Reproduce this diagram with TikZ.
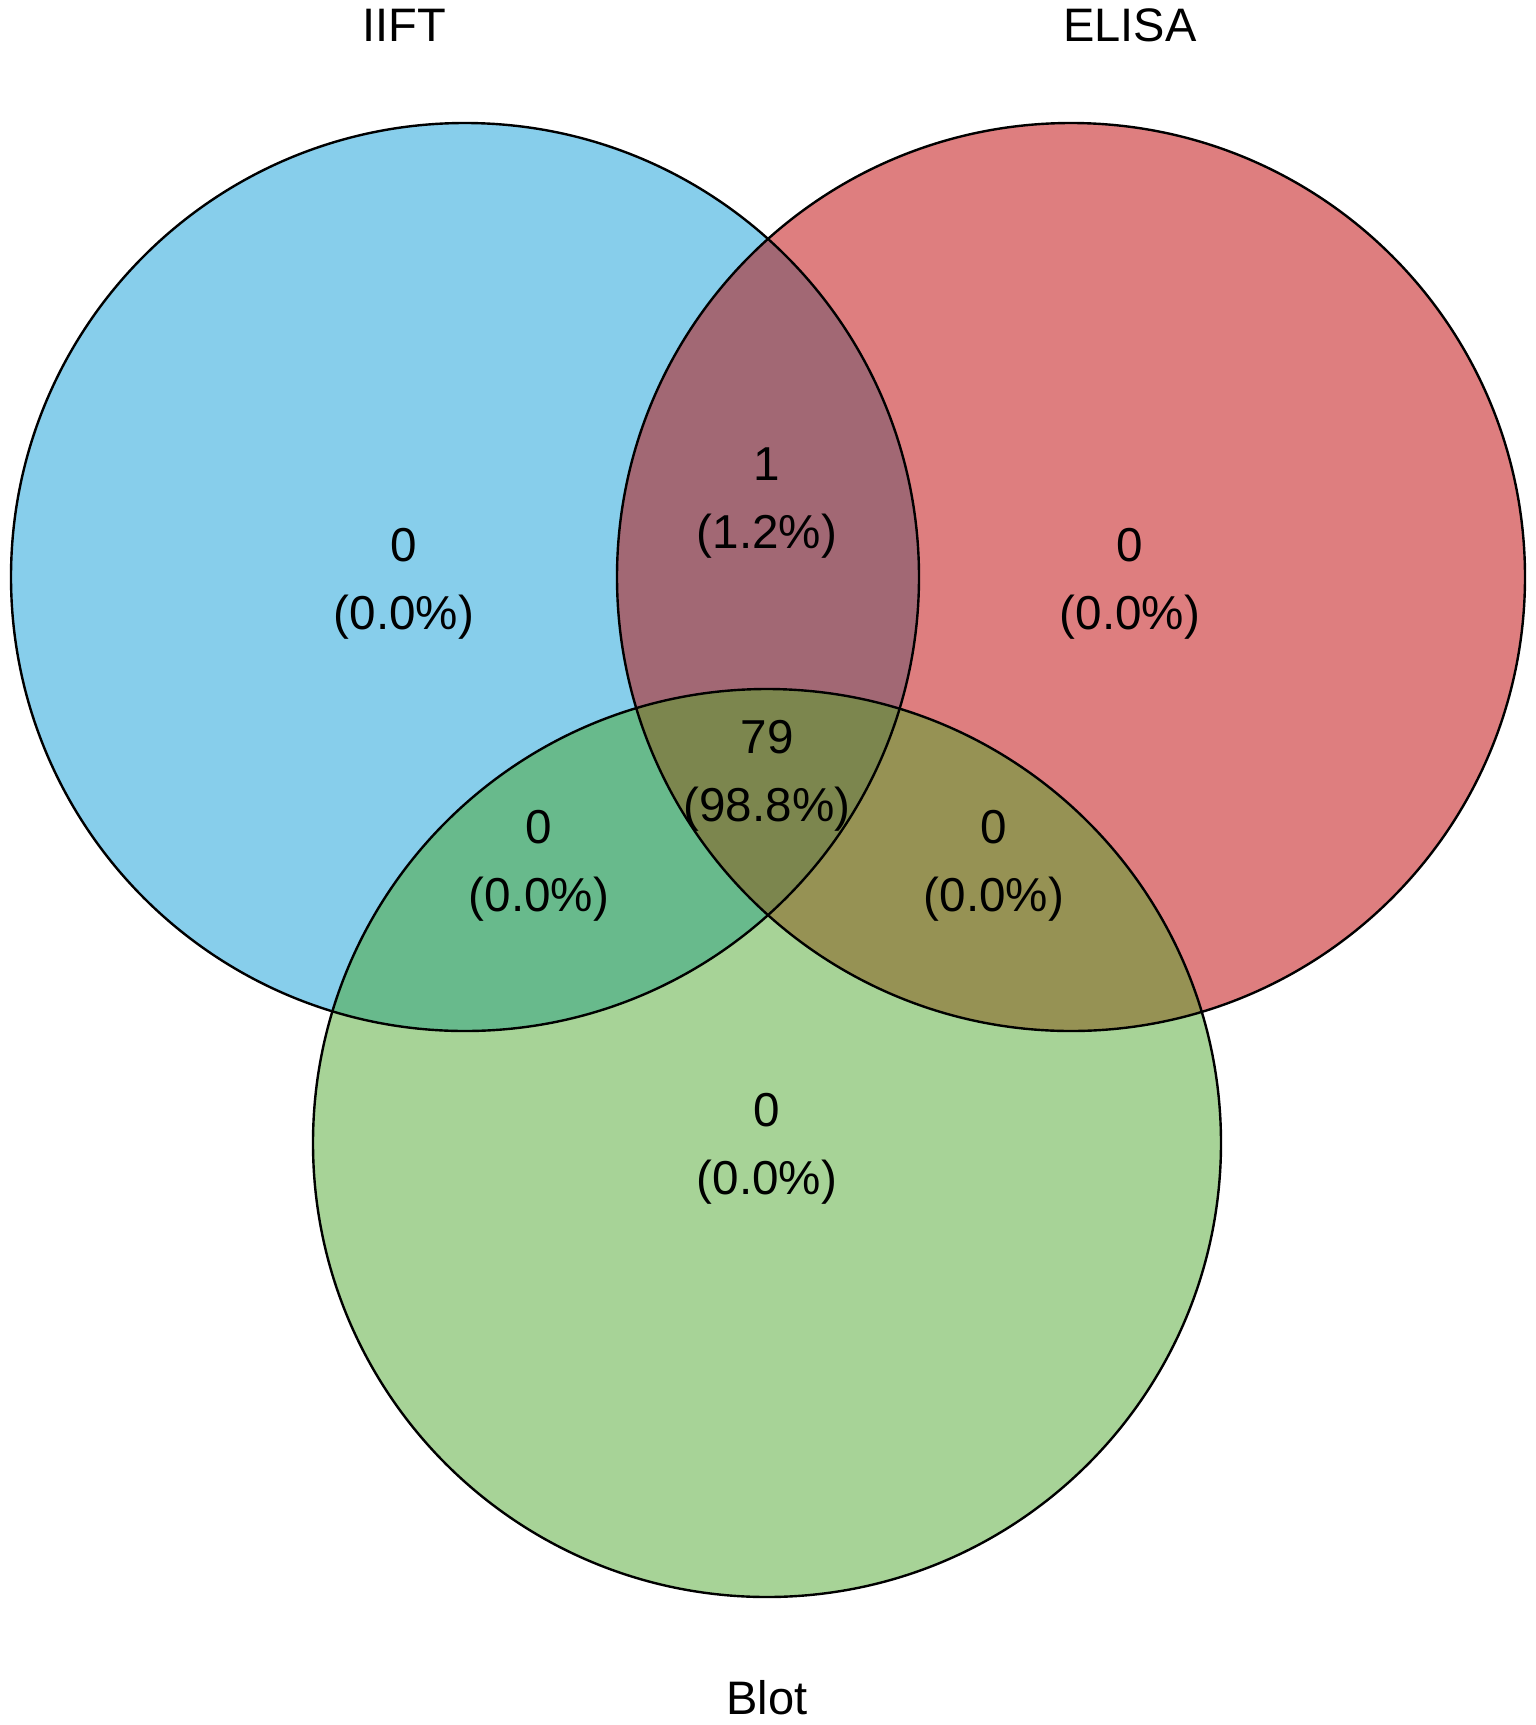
\documentclass[tikz,border=0pt]{standalone}
\usepackage{fontspec}
\setmainfont{Liberation Sans}
\usepackage{tikz}
\usetikzlibrary{calc}
\definecolor{cblue}{RGB}{135,206,235}
\definecolor{cred}{RGB}{222,126,127}
\definecolor{cgreen}{RGB}{167,211,151}
\definecolor{cbr}{RGB}{162,104,116}
\definecolor{cbg}{RGB}{104,186,140}
\definecolor{crg}{RGB}{150,146,84}
\definecolor{cbrg}{RGB}{124,134,78}
\tikzstyle{setlbl}=[font=\fontsize{23.5}{28}\selectfont, inner sep=0pt]
\tikzstyle{cnt}=[font=\fontsize{23.8}{34}\selectfont, align=center, inner sep=0pt]
\tikzstyle{ring}=[draw=black, line width=1.2pt]

\begin{document}
\begin{tikzpicture}[x=0.5pt,y=-0.5pt]
\useasboundingbox (0,0) rectangle (1536,1725);
\coordinate (ciift) at (465,577);
\coordinate (celisa) at (1071,577);
\coordinate (cblot) at (767,1143);
% single sets
\fill[cblue] (ciift) circle (454);
\fill[cred] (celisa) circle (454);
\fill[cgreen] (cblot) circle (454);
% pairwise overlaps
\begin{scope}
\clip (ciift) circle (454);
\fill[cbr] (celisa) circle (454);
\fill[cbg] (cblot) circle (454);
\end{scope}
\begin{scope}
\clip (celisa) circle (454);
\fill[crg] (cblot) circle (454);
\end{scope}
% all three
\begin{scope}
\clip (ciift) circle (454);
\clip (celisa) circle (454);
\fill[cbrg] (cblot) circle (454);
\end{scope}
\draw[ring] (ciift) circle (454);
\draw[ring] (celisa) circle (454);
\draw[ring] (cblot) circle (454);
% set names
\node[setlbl] (liift) at (404,25) {IIFT};
\node[setlbl] (lelisa) at (1130,25) {ELISA};
\node[setlbl] (lblot) at (767,1698) {Blot};
% counts
\node[cnt] (niift) at (404,584) {0\\(0.0\%)};
\node[cnt] (nelisa) at (1130,584) {0\\(0.0\%)};
\node[cnt] (nie) at (767,503) {1\\(1.2\%)};
\node[cnt] (nall) at (767,776) {79\\(98.8\%)};
\node[cnt] (nib) at (539,866) {0\\(0.0\%)};
\node[cnt] (neb) at (994,866) {0\\(0.0\%)};
\node[cnt] (nblot) at (767,1149) {0\\(0.0\%)};
\end{tikzpicture}
\end{document}
